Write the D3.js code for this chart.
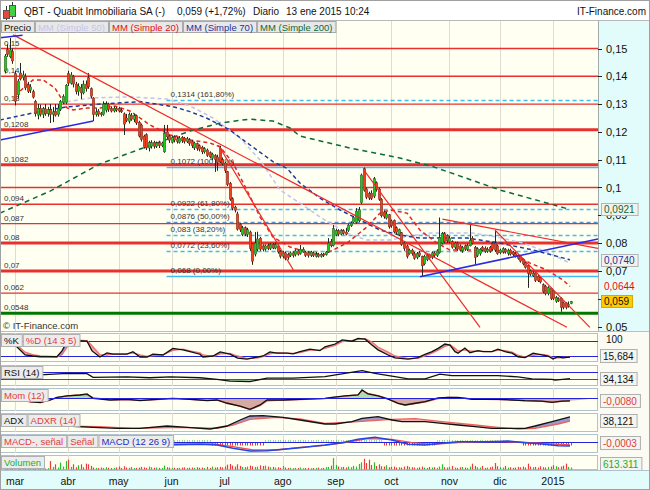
<!DOCTYPE html>
<html><head><meta charset="utf-8">
<script src="https://cdn.jsdelivr.net/npm/d3@7/dist/d3.min.js"></script>
<style>
html,body{margin:0;padding:0;background:#fff;}
svg{display:block;font-family:"Liberation Sans",Arial,Helvetica,sans-serif;}
</style></head><body>
<svg id="chart" width="650" height="490"></svg>
<script>
// ================= DATA =================
const ticker = "QBT - Quabit Inmobiliaria SA (-)";
const lastQuote = "0,059 (+1,72%)";
const period = "Diario";
const stamp = "13 ene 2015 10:24";
const brand = "IT-Finance.com";
const copyright = "\u00a9 IT-Finance.com";

const legendItems = ["Precio","MM (Simple 50)","MM (Simple 20)","MM (Simple 70)","MM (Simple 200)"];

// trading-day index of the first session of each month
const monthLabels = ["mar","abr","may","jun","jul","ago","sep","oct","nov","dic","2015"];
const monthStartIdx = [4,25,45,66,87,110,131,153,176,196,217];

// daily candles [open, high, low, close]  (25 Feb 2014 .. 13 Jan 2015)
const candles = [
[.1419,.1480,.1410,.1473],[.1496,.1515,.1470,.1478],[.1470,.1538,.1465,.1495],[.1490,.1500,.1445,.1455],[.1410,.1420,.1295,.1310],
[.1333,.1390,.1320,.1383],[.1412,.1448,.1385,.1390],[.1395,.1420,.1385,.1405],[.1400,.1410,.1350,.1358],[.1370,.1380,.1340,.1345],
[.1350,.1372,.1340,.1362],[.1345,.1352,.1320,.1325],[.1310,.1315,.1255,.1265],[.1260,.1300,.1245,.1285],[.1285,.1298,.1255,.1262],
[.1262,.1290,.1250,.1285],[.1283,.1300,.1258,.1265],[.1265,.1290,.1255,.1280],[.1280,.1300,.1232,.1262],[.1262,.1290,.1235,.1272],
[.1275,.1300,.1255,.1260],[.1262,.1300,.1255,.1285],[.1280,.1315,.1275,.1310],[.1305,.1335,.1300,.1328],[.1305,.1372,.1300,.1368],
[.1410,.1420,.1365,.1375],[.1375,.1415,.1370,.1405],[.1400,.1405,.1360,.1372],[.1372,.1380,.1335,.1345],[.1345,.1375,.1330,.1365],
[.1360,.1372,.1318,.1340],[.1340,.1385,.1335,.1372],[.1372,.1385,.1345,.1355],[.1395,.1412,.1355,.1362],[.1355,.1360,.1320,.1328],
[.1322,.1325,.1239,.1262],[.1262,.1285,.1255,.1272],[.1275,.1282,.1255,.1262],[.1268,.1272,.1255,.1262],[.1262,.1310,.1258,.1300],
[.1278,.1310,.1270,.1300],[.1300,.1305,.1272,.1280],[.1285,.1292,.1270,.1275],[.1275,.1292,.1270,.1285],[.1285,.1290,.1272,.1278],
[.1285,.1290,.1270,.1275],[.1278,.1285,.1268,.1272],[.1265,.1270,.1189,.1228],[.1250,.1265,.1235,.1240],[.1238,.1270,.1230,.1262],
[.1260,.1268,.1240,.1245],[.1245,.1265,.1235,.1258],[.1258,.1262,.1225,.1232],[.1235,.1240,.1180,.1185],[.1225,.1230,.1165,.1172],
[.1185,.1190,.1140,.1145],[.1190,.1195,.1135,.1142],[.1142,.1168,.1130,.1162],[.1148,.1170,.1140,.1162],[.1162,.1168,.1140,.1148],
[.1148,.1165,.1142,.1160],[.1162,.1168,.1142,.1150],[.1150,.1165,.1145,.1160],[.1128,.1225,.1125,.1195],[.1200,.1225,.1175,.1182],
[.1185,.1190,.1160,.1170],[.1162,.1185,.1158,.1180],[.1182,.1188,.1162,.1170],[.1175,.1182,.1158,.1165],[.1162,.1185,.1158,.1178],
[.1180,.1185,.1160,.1168],[.1178,.1182,.1158,.1165],[.1165,.1182,.1160,.1175],[.1172,.1178,.1150,.1158],[.1165,.1170,.1142,.1150],
[.1142,.1165,.1135,.1160],[.1158,.1162,.1132,.1140],[.1150,.1155,.1130,.1138],[.1145,.1150,.1120,.1128],[.1128,.1145,.1122,.1140],
[.1135,.1140,.1110,.1115],[.1125,.1130,.1105,.1110],[.1105,.1125,.1098,.1120],[.1115,.1120,.1056,.1100],[.1110,.1118,.1060,.1090],
[.1140,.1150,.1088,.1092],[.1100,.1108,.1080,.1085],[.1088,.1092,.1052,.1060],[.1058,.1060,.1005,.1010],[.1015,.1020,.0952,.0958],
[.0960,.0965,.0918,.0925],[.0930,.0935,.0910,.0918],[.0905,.0913,.0845,.0850],[.0868,.0872,.0840,.0848],[.0830,.0862,.0825,.0855],
[.0855,.0860,.0825,.0832],[.0830,.0855,.0822,.0848],[.0840,.0845,.0772,.0780],[.0798,.0800,.0722,.0735],[.0760,.0840,.0752,.0800],
[.0778,.0841,.0770,.0815],[.0818,.0822,.0772,.0778],[.0790,.0795,.0770,.0778],[.0778,.0795,.0772,.0790],[.0792,.0798,.0775,.0780],
[.0780,.0800,.0775,.0795],[.0795,.0800,.0778,.0782],[.0782,.0802,.0778,.0795],[.0790,.0795,.0762,.0768],[.0770,.0775,.0745,.0752],
[.0752,.0772,.0745,.0765],[.0765,.0770,.0738,.0745],[.0760,.0765,.0740,.0748],[.0755,.0770,.0750,.0765],[.0765,.0770,.0748,.0755],
[.0758,.0778,.0752,.0772],[.0772,.0778,.0755,.0760],[.0762,.0793,.0758,.0778],[.0768,.0785,.0765,.0778],[.0768,.0772,.0750,.0755],
[.0765,.0770,.0748,.0755],[.0755,.0772,.0750,.0768],[.0765,.0770,.0750,.0755],[.0752,.0768,.0748,.0760],[.0760,.0765,.0748,.0752],
[.0752,.0765,.0748,.0760],[.0760,.0765,.0750,.0755],[.0758,.0772,.0755,.0768],[.0768,.0818,.0765,.0800],[.0805,.0815,.0785,.0790],
[.0792,.0865,.0788,.0852],[.0830,.0852,.0825,.0845],[.0845,.0850,.0825,.0832],[.0832,.0850,.0828,.0845],[.0845,.0850,.0830,.0835],
[.0840,.0855,.0828,.0832],[.0845,.0870,.0840,.0865],[.0862,.0878,.0858,.0872],[.0875,.0898,.0872,.0893],[.0875,.0926,.0870,.0915],
[.0880,.0930,.0875,.0920],[.0945,.1050,.0940,.1045],[.1068,.1072,.0985,.0990],[.0995,.1000,.0958,.0965],[.0978,.0985,.0955,.0962],
[.0980,.0990,.0955,.0960],[.0968,.1038,.0962,.1032],[.1018,.1022,.0985,.0992],[.0995,.1000,.0952,.0958],[.0958,.0962,.0892,.0898],
[.0912,.0918,.0888,.0895],[.0890,.0912,.0885,.0905],[.0902,.0905,.0852,.0858],[.0880,.0885,.0855,.0862],[.0882,.0885,.0835,.0840],
[.0855,.0860,.0830,.0838],[.0830,.0852,.0825,.0848],[.0838,.0840,.0790,.0795],[.0800,.0805,.0772,.0780],[.0790,.0795,.0745,.0752],
[.0762,.0780,.0758,.0775],[.0775,.0780,.0755,.0762],[.0762,.0768,.0740,.0745],[.0748,.0768,.0742,.0762],[.0765,.0772,.0750,.0755],
[.0752,.0755,.0680,.0718],[.0725,.0758,.0720,.0752],[.0740,.0760,.0735,.0755],[.0758,.0762,.0740,.0745],[.0748,.0770,.0742,.0765],
[.0765,.0770,.0750,.0755],[.0755,.0778,.0750,.0772],[.0765,.0892,.0762,.0820],[.0800,.0840,.0795,.0835],[.0835,.0840,.0800,.0805],
[.0828,.0832,.0800,.0808],[.0805,.0825,.0800,.0818],[.0805,.0810,.0780,.0785],[.0785,.0805,.0778,.0800],[.0800,.0805,.0772,.0778],
[.0790,.0795,.0770,.0775],[.0772,.0790,.0765,.0785],[.0790,.0795,.0772,.0778],[.0778,.0798,.0772,.0792],[.0790,.0865,.0788,.0810],
[.0818,.0825,.0795,.0800],[.0785,.0790,.0722,.0748],[.0755,.0785,.0750,.0780],[.0762,.0782,.0755,.0778],[.0785,.0790,.0770,.0775],
[.0782,.0788,.0765,.0770],[.0770,.0785,.0765,.0778],[.0785,.0790,.0765,.0770],[.0798,.0805,.0772,.0778],[.0800,.0847,.0768,.0775],
[.0790,.0795,.0758,.0762],[.0765,.0780,.0760,.0775],[.0768,.0785,.0762,.0780],[.0778,.0782,.0762,.0768],[.0762,.0780,.0755,.0775],
[.0775,.0780,.0755,.0760],[.0768,.0772,.0752,.0758],[.0762,.0768,.0748,.0752],[.0755,.0760,.0740,.0745],[.0752,.0755,.0730,.0735],
[.0740,.0745,.0720,.0725],[.0730,.0735,.0708,.0712],[.0720,.0722,.0639,.0690],[.0700,.0705,.0682,.0688],[.0682,.0698,.0678,.0692],
[.0692,.0695,.0660,.0665],[.0680,.0685,.0660,.0665],[.0675,.0680,.0655,.0660],[.0650,.0655,.0620,.0625],[.0645,.0650,.0612,.0618],
[.0618,.0645,.0612,.0640],[.0638,.0640,.0595,.0600],[.0628,.0632,.0595,.0600],[.0590,.0610,.0585,.0605],[.0600,.0605,.0588,.0592],
[.0602,.0605,.0553,.0568],[.0585,.0590,.0562,.0568],[.0585,.0588,.0562,.0568],[.0575,.0590,.0568,.0580],[.0582,.0592,.0580,.0590]
];

// daily volume (thousands of shares)
const volume = [
300,250,420,350,300,480,320,260,300,360,280,300,330,300,350,
300,280,420,2600,800,1600,600,2100,900,2600,3000,800,1600,700,1300,
1600,700,1800,1600,1100,600,500,450,600,500,700,550,480,500,650,
900,500,1000,600,550,700,450,500,600,800,650,500,900,700,550,
600,500,450,1200,700,600,500,550,450,500,600,650,500,550,600,
500,700,550,600,450,800,500,900,600,700,800,650,900,1500,1700,
1200,900,1600,1100,800,700,900,1200,1000,800,900,1300,1100,1200,900,
700,800,600,700,500,1100,600,500,550,400,500,450,600,400,450,
500,400,450,500,600,400,500,700,800,1200,3500,1400,900,700,800,
600,900,700,1100,900,1700,2200,3300,2000,3000,1400,2200,1100,1600,1000,
900,1300,700,800,900,600,700,600,900,1100,800,700,600,500,700,
900,600,500,800,600,700,500,900,1600,700,600,800,1100,600,500,
700,800,600,500,900,1800,1100,700,600,1100,500,600,700,900,2000,
1000,700,600,1100,600,700,500,600,800,700,900,600,1800,900,700,
800,600,1000,700,600,800,900,1300,1000,700,900,1200,1800,800,613
];

// moving averages: [day index, price]
const ma20 = [[6,.1347],[11.1,.1387],[15.1,.1387],[19.8,.1358],[23,.1311],[24.6,.1286],[27,.1279],[32.5,.1286],[37.6,.1286],[43.6,.1293],[49.5,.1275],[53.5,.1250],[57.4,.1225],[65.4,.1189],[73.3,.1171],[81.2,.1160],[85.2,.1146],[90.3,.1088],[95.8,.0991],[101,.0894],[106.1,.0822],[112.9,.0786],[116.8,.0775],[125.9,.0757],[135.4,.0800],[143.3,.0858],[148.5,.0908],[152.5,.0919],[159.2,.0908],[164.3,.0847],[171.1,.0800],[176.2,.0775],[185.3,.0775],[193.2,.0775],[201.2,.0764],[207.9,.0728],[214.6,.0703],[221,.0667],[223.7,.0644]];
const ma50 = [[21.8,.1304],[33.7,.1322],[49.5,.1326],[64.2,.1318],[73.3,.1293],[82.4,.1250],[93.1,.1178],[101,.1099],[108.9,.0991],[116.8,.0944],[124.7,.0894],[135.4,.0836],[143.3,.0811],[152.5,.0811],[160.4,.0826],[168.3,.0836],[185.3,.0836],[194.8,.0822],[205.1,.0800],[214.6,.0768],[223.7,.0728]];
const ma70 = [[-1.94,.1243],[11.1,.1268],[24.6,.1290],[37.6,.1300],[53.5,.1309],[66.5,.1291],[73.3,.1273],[80,.1249],[89.1,.1207],[94.3,.1171],[99.8,.1135],[106.1,.1093],[111.7,.1069],[116.8,.1016],[124.7,.0962],[132.7,.0919],[140.6,.0883],[148.5,.0847],[156.4,.0829],[164.3,.0818],[171.1,.0818],[183,.0818],[196,.0800],[209.1,.0775],[223.7,.0740]];
const ma200 = [[-1.94,.0908],[17.9,.0987],[37.6,.1085],[54.7,.1142],[73.3,.1203],[85.2,.1232],[97,.1246],[106.1,.1239],[112.9,.1214],[116.8,.1185],[136.6,.1142],[156.4,.1106],[169.5,.1075],[196,.0991],[223.7,.0921]];

// horizontal support / resistance lines
const srLevels = [.15,.14,.13,.1208,.1082,.1,.094,.087,.08,.07,.062];
const srLabels = ["0,15","0,14","0,13","0,1208","0,1082","","0,094","0,087","0,08","0,07","0,062"];
const supportLevel = .0548;
const supportLabel = "0,0548";

// Fibonacci retracement
const fibLevels = [.1314,.1072,.0922,.0876,.083,.0772,.068];
const fibLabels = ["0,1314 (161,80%)","0,1072 (100,00%)","0,0922 (61,80%)","0,0876 (50,00%)","0,083 (38,20%)","0,0772 (23,60%)","0,068 (0,00%)"];
const fibStartIdx = 64;

// trend lines [idx1, price1, idx2, price2]
const redTrendLines = [[3.3,.1549,222.5,.0497],[84.5,.1153,114.2,.0703],[141.9,.1065,188.1,.0497],[194,.0847,231.6,.0497],[173.2,.0886,234.8,.0781]];
const blueTrendLines = [[164.3,.0679,234.8,.0815],[-1.94,.1171,35,.1239],[-1.94,.1539,7,.1548]];

// right axis ticks (0,06 is hidden behind the value boxes in the original)
const priceTicks = [.05,.06,.07,.08,.09,.1,.11,.12,.13,.14,.15];
const hiddenTickLabels = [.06];
const maEndLabels = ["0,0921","0,0740","0,0644"];   // MM200, MM70, MM20
const lastPriceLabel = "0,059";

// indicators [day index, value]
const stochK = [[4,63],[8,24],[11,20],[14,17],[20.6,17],[22.6,40],[24.6,76],[28.5,80],[32.5,78],[34.5,40],[37.6,16],[40.4,32],[42.8,27],[48.3,27],[50.7,37],[53.5,16],[56.3,16],[58.6,27],[62.6,24],[66.5,50],[70.5,44],[73.3,37],[77.2,27],[78.4,16],[82.4,20],[85.2,36],[89.1,27],[92.1,12],[95.8,8],[99.8,16],[102.2,20],[104.9,36],[107.7,31],[111.7,31],[114.1,28],[116.8,37],[120.8,47],[124.7,41],[126.7,56],[130.7,67],[133.5,83],[137.4,78],[139.8,89],[142.6,86],[145.3,63],[147.7,44],[151.7,24],[154.4,13],[159.6,8],[163.5,14],[166.3,26],[169.1,37],[171.5,50],[174.2,67],[176.2,63],[178.2,37],[179.4,31],[182.1,51],[184.1,33],[187.3,41],[189.3,37],[192.8,37],[195.2,47],[198,37],[200.8,31],[203.1,17],[205.9,14],[209.1,31],[212.6,24],[215,20],[217,8],[219,17],[220.9,13],[223.7,16]];
const stochD = [[4,70],[8,35],[11,25],[14,20],[20.6,17],[22.6,25],[24.6,55],[28.5,82],[32.5,80],[34.5,60],[37.6,25],[40.4,24],[42.8,28],[48.3,28],[50.7,32],[53.5,24],[56.3,18],[58.6,22],[62.6,25],[66.5,42],[70.5,47],[73.3,40],[77.2,32],[78.4,24],[82.4,18],[85.2,28],[89.1,30],[92.1,20],[95.8,10],[99.8,12],[102.2,18],[104.9,28],[107.7,33],[111.7,31],[114.1,30],[116.8,33],[120.8,43],[124.7,44],[126.7,50],[130.7,62],[133.5,76],[137.4,80],[139.8,85],[142.6,88],[145.3,75],[147.7,55],[151.7,35],[154.4,20],[159.6,10],[163.5,11],[166.3,20],[169.1,31],[171.5,43],[174.2,58],[176.2,64],[178.2,50],[179.4,40],[182.1,44],[184.1,40],[187.3,38],[189.3,38],[192.8,37],[195.2,43],[198,41],[200.8,35],[203.1,23],[205.9,16],[209.1,23],[212.6,26],[215,22],[217,13],[219,13],[220.9,14],[223.7,16]];
const rsi = [[14,55],[24.6,64],[32.5,62],[34.9,41],[48.3,44],[57.4,39],[65.4,44],[77.2,39],[84,30],[89.1,20],[97,17],[103.8,37],[114.1,37],[126.7,45],[134.6,64],[141.4,79],[146.5,64],[154.4,45],[159.6,32],[166.3,32],[172.2,59],[177,51],[186.1,51],[195.2,51],[203.1,44],[208.7,32],[216.6,30],[217.8,25],[223.7,34]];
const mom = [[6,0],[10,-.011],[14,-.014],[17.9,-.0055],[20.6,.003],[24.6,.0075],[29.7,.0107],[32.5,.014],[34.9,0],[41.6,-.0055],[48.3,-.003],[53.5,-.0077],[60.2,-.003],[66.5,0],[73.3,-.003],[80,-.0077],[84,-.0055],[87.9,-.016],[93.1,-.025],[97,-.0355],[101,-.0215],[103.8,-.0055],[110.1,-.0055],[116.8,-.003],[126.7,0],[129.5,.003],[134.6,.0075],[139.8,.0107],[141.4,.0268],[143.7,.014],[147.7,.0075],[151.7,-.003],[155.6,-.016],[158.4,-.0215],[162.4,-.016],[166.3,-.011],[171.5,.001],[175.4,.003],[179.4,.003],[184.9,-.003],[190.1,-.003],[195.2,-.003],[200.8,-.0055],[205.9,-.0077],[212.6,-.009],[216.6,-.0131],[220.5,-.009],[223.7,-.008]];
const momRed = [[6,-.002],[10,-.012],[14,-.013],[17.9,-.006],[20.6,.002],[24.6,.008],[29.7,.011],[32.5,.012],[34.9,.002],[41.6,-.005],[48.3,-.004],[53.5,-.007],[60.2,-.004],[66.5,-.001],[73.3,-.003],[80,-.007],[84,-.006],[87.9,-.014],[93.1,-.026],[97,-.036],[101,-.024],[103.8,-.008],[110.1,-.006],[116.8,-.004],[126.7,-.001],[129.5,.002],[134.6,.007],[139.8,.011],[141.4,.025],[143.7,.016],[147.7,.009],[151.7,-.001],[155.6,-.015],[158.4,-.022],[162.4,-.017],[166.3,-.012],[171.5,-.001],[175.4,.003],[179.4,.002],[184.9,-.002],[190.1,-.003],[195.2,-.004],[200.8,-.005],[205.9,-.008],[212.6,-.010],[216.6,-.012],[220.5,-.010],[223.7,-.008]];
const adx = [[17.9,17.5],[24.6,15],[34.9,11.8],[44.4,9.3],[53.5,9.3],[64.2,15],[72.1,11.8],[81.2,7.5],[87.9,15],[93.1,30],[97,40],[102.2,40.8],[110.1,36.8],[116.8,30],[126.7,20],[130.7,20],[137.4,25.8],[141.4,34.3],[147.7,38.3],[153.2,30],[157.2,25.8],[166.3,25.8],[173,21.8],[179.4,17.5],[186.1,13.3],[192.8,9.3],[199.2,9.3],[205.9,9.3],[209.9,15],[216.6,25.8],[223.7,38.1]];
const adxr = [[17.9,15],[37.6,13.3],[50.7,9.3],[70.5,11.8],[84,9.3],[90.3,17.5],[97,31.7],[107.7,36.8],[116.8,32.5],[126.7,21.7],[139.8,25.8],[153.2,31.7],[162.4,33.3],[173,25.8],[186.1,17.5],[195.2,11.8],[203.1,7.5],[209.9,9.3],[219,20],[223.7,27.5]];
const macd = [[64.2,-.0033],[77.2,-.0026],[84,-.0033],[90.3,-.0066],[97,-.0093],[103.8,-.009],[110.1,-.0076],[116.8,-.006],[126.7,-.0033],[133.5,-.001],[139.8,.0024],[146.5,.0044],[153.2,.0017],[159.6,-.0026],[166.3,-.0033],[173,-.0016],[179.4,0],[186.1,0],[192.8,0],[199.2,.0007],[205.9,-.001],[212.6,-.0023],[219,-.004],[223.7,-.0043]];
const macdSignal = [[64.2,-.0023],[82.4,-.0023],[90.3,-.005],[98.2,-.0083],[107.7,-.0083],[116.8,-.0056],[126.7,-.0036],[134.6,-.001],[143.7,.003],[153.2,.0024],[161.2,-.001],[169.1,-.0026],[179.4,-.001],[192.8,.0004],[203.1,-.0003],[212.6,-.0016],[223.7,-.0033]];
// sign of MACD histogram by ranges of days [from, to, sign]
const macdHistSegs = [[64,81,1],[82,102,-1],[103,149,1],[150,170,-1],[171,199,1],[205,224,-1]];
const panelLastValues = ["15,684","34,134","-0,0080","38,121","-0,0003","613.311"];

// ================= DRAWING =================
const svg = d3.select("#chart");
const defs = svg.append("defs");
const PR = 598, MT = 21, MB = 331;
const x = d3.scaleLinear().domain([-1.94, 234.8]).range([0, PR]);
const y = d3.scaleLinear().domain([.05, .15]).range([326.5, 48.5]);
const line = d3.line();
const px = v => Math.round(v) + 0.5;

svg.append("rect").attr("width",650).attr("height",490).attr("fill","#ffffff");

// ---- title bar ----
const icon = svg.append("g");
icon.append("line").attr("x1",6.5).attr("x2",6.5).attr("y1",6).attr("y2",21).attr("stroke","#333");
icon.append("rect").attr("x",3.5).attr("y",10.5).attr("width",6).attr("height",8).attr("fill","#e8483c").attr("stroke","#555");
icon.append("line").attr("x1",12.5).attr("x2",12.5).attr("y1",2).attr("y2",19).attr("stroke","#333");
icon.append("rect").attr("x",9.5).attr("y",5.5).attr("width",6).attr("height",11).attr("fill","#40d040").attr("stroke","#555");
const tt = [[ticker,24],[lastQuote,177],[period,253],[stamp,286]];
tt.forEach(t => svg.append("text").attr("x",t[1]).attr("y",14.5).attr("font-size",10).attr("fill","#111").text(t[0]));
svg.append("text").attr("x",646).attr("y",14.5).attr("text-anchor","end").attr("font-size",10).attr("fill","#111").text(brand);

// ---- main plot background ----
svg.append("rect").attr("x",0).attr("y",MT).attr("width",PR).attr("height",MB-MT).attr("fill","#fffff2");
svg.append("rect").attr("x",PR).attr("y",MT).attr("width",650-PR).attr("height",MB-MT).attr("fill","#e2fbfb");
svg.append("line").attr("x1",0).attr("x2",650).attr("y1",MT-0.5).attr("y2",MT-0.5).attr("stroke","#b8b8b8");

defs.append("clipPath").attr("id","mainClip").append("rect").attr("x",0).attr("y",MT).attr("width",PR).attr("height",MB-MT);
const main = svg.append("g").attr("clip-path","url(#mainClip)");

// month grid
monthStartIdx.forEach(i => main.append("line").attr("x1",px(x(i))).attr("x2",px(x(i))).attr("y1",MT).attr("y2",MB).attr("stroke","#dedcd0"));

// fibonacci lines
fibLevels.forEach((v,k) => {
  const solid = (k===1 || k===fibLevels.length-1);
  main.append("line").attr("x1",x(fibStartIdx)).attr("x2",PR).attr("y1",px(y(v))).attr("y2",px(y(v)))
    .attr("stroke", k===3 ? "#5a8ed0" : "#40bcf0").attr("stroke-width",1.4)
    .attr("stroke-dasharray", solid ? null : "4,3");
});

// support / resistance lines
const thick = new Set([.1208,.1082,.08,.07]);
srLevels.forEach(v => main.append("line").attr("x1",0).attr("x2",PR).attr("y1",y(v)).attr("y2",y(v))
  .attr("stroke","#e8302e").attr("stroke-width", thick.has(v) ? 3 : 1.4));
main.append("line").attr("x1",0).attr("x2",PR).attr("y1",y(supportLevel)).attr("y2",y(supportLevel))
  .attr("stroke","#007800").attr("stroke-width",3);

// moving averages
const maDefs = [[ma200,"#0b6b3a","5,4"],[ma50,"#c2c2ee","4,3"],[ma70,"#1d3a9c","4,3"],[ma20,"#e02626","4,3"]];
maDefs.forEach(m => main.append("path").attr("d", line(m[0].map(d=>[x(d[0]),y(d[1])])))
  .attr("fill","none").attr("stroke",m[1]).attr("stroke-width",1.5).attr("stroke-dasharray",m[2]));

// labels of lines
srLevels.forEach((v,k) => { if (srLabels[k]) main.append("text").attr("x",4).attr("y",y(v)-3).attr("font-size",8).attr("fill","#333").text(srLabels[k]); });
main.append("text").attr("x",4).attr("y",y(supportLevel)-3).attr("font-size",8).attr("fill","#333").text(supportLabel);
fibLevels.forEach((v,k) => main.append("text").attr("x",x(fibStartIdx)+4).attr("y",y(v)-3).attr("font-size",8).attr("fill","#333").text(fibLabels[k]));

// candles
const cg = main.append("g");
candles.forEach((c,i) => {
  const cx = px(x(i));
  const up = c[3] >= c[0];
  cg.append("line").attr("x1",cx).attr("x2",cx).attr("y1",y(c[1])).attr("y2",y(c[2])).attr("stroke","#262626").attr("stroke-width",1);
  const top = y(Math.max(c[0],c[3])), bot = y(Math.min(c[0],c[3]));
  cg.append("rect").attr("x",cx-1.3).attr("y",top).attr("width",2.6).attr("height",Math.max(1,bot-top))
    .attr("fill", up ? "#1ec81e" : "#f0401e").attr("stroke","#3a2a2a").attr("stroke-width",0.35);
});

// trend lines
redTrendLines.forEach(t => main.append("line").attr("x1",x(t[0])).attr("y1",y(t[1])).attr("x2",x(t[2])).attr("y2",y(t[3]))
  .attr("stroke","#ee2a2a").attr("stroke-width",1.2));
blueTrendLines.forEach(t => main.append("line").attr("x1",x(t[0])).attr("y1",y(t[1])).attr("x2",x(t[2])).attr("y2",y(t[3]))
  .attr("stroke","#2a2ae6").attr("stroke-width",1.5));

main.append("text").attr("x",3).attr("y",MB-2).attr("font-size",9.5).attr("fill","#333").text(copyright);

// legend
const legColors = ["#111","#c4c4ec","#e01010","#1a34a0","#0a6a3a"];
let lx = 1;
legendItems.forEach((s,k) => {
  const g = svg.append("g");
  const r = g.append("rect").attr("x",lx+0.5).attr("y",MT+0.5).attr("height",11).attr("fill","#e8e8e8").attr("stroke","#a8a8a8");
  const t = g.append("text").attr("x",lx+3).attr("y",MT+9.5).attr("font-size",9.5).attr("fill",legColors[k]).text(s);
  const w = t.node().getComputedTextLength() + 6;
  r.attr("width",w);
  lx += w + 1;
});

// right axis
svg.append("line").attr("x1",PR+0.5).attr("x2",PR+0.5).attr("y1",MT).attr("y2",MB).attr("stroke","#a0a8a8");
priceTicks.forEach(v => {
  svg.append("line").attr("x1",PR).attr("x2",PR+4).attr("y1",px(y(v))).attr("y2",px(y(v))).attr("stroke","#222");
  if (!hiddenTickLabels.includes(v))
    svg.append("text").attr("x",PR+8).attr("y",y(v)+4).attr("font-size",11).attr("fill","#111")
      .text((+v.toFixed(2)).toString().replace(".",","));
});
function valueBox(txt, yc, color, fill, stroke) {
  const g = svg.append("g");
  const r = g.append("rect").attr("x",PR+3.5).attr("y",Math.round(yc-6)+0.5).attr("height",12).attr("fill",fill).attr("stroke",stroke);
  const t = g.append("text").attr("x",PR+6).attr("y",Math.round(yc-6)+10).attr("font-size",10).attr("fill",color).text(txt);
  r.attr("width", t.node().getComputedTextLength()+6);
}
valueBox(maEndLabels[0], y(ma200[ma200.length-1][1]), "#0a6a3a", "#f2f2ea", "#b4b4b4");
valueBox(maEndLabels[1], y(ma70[ma70.length-1][1]), "#1a34a0", "#f2f2ea", "#b4b4b4");
valueBox(maEndLabels[2], y(ma20[ma20.length-1][1]), "#e01010", "#eef8f8", "#e2fbfb");
valueBox(lastPriceLabel, y(candles[candles.length-1][3]), "#111", "#ffcc00", "#d8a800");

// ---------- lower panels ----------
let clipN = 0;
function makePanel(y0, y1) {
  const id = "pc" + (clipN++);
  defs.append("clipPath").attr("id",id).append("rect").attr("x",0).attr("y",y0).attr("width",PR).attr("height",y1-y0);
  svg.append("rect").attr("x",0.5).attr("y",y0+0.5).attr("width",PR-1).attr("height",y1-y0-1).attr("fill","#fffff2").attr("stroke","#b0c2cc");
  const g = svg.append("g").attr("clip-path",`url(#${id})`);
  monthStartIdx.forEach(i => g.append("line").attr("x1",px(x(i))).attr("x2",px(x(i))).attr("y1",y0).attr("y2",y1).attr("stroke","#dedcd0"));
  return g;
}
function fillBetween(g, A, B, ys, colPos, colNeg, y0, y1) {
  const pa = A.map(d=>[x(d[0]),ys(d[1])]);
  const pb = B.map(d=>[x(d[0]),ys(d[1])]);
  const poly = "M" + pa.concat(pb.slice().reverse()).join("L") + "Z";
  const ext = [[-10,pb[0][1]]].concat(pb).concat([[660,pb[pb.length-1][1]]]);
  [[y0-50,colPos],[y1+50,colNeg]].forEach(s => {
    const id = "fb" + (clipN++);
    const cp = [[-10,s[0]]].concat(ext).concat([[660,s[0]]]);
    defs.append("clipPath").attr("id",id).append("path").attr("d","M"+cp.join("L")+"Z");
    g.append("path").attr("d",poly).attr("fill",s[1]).attr("clip-path",`url(#${id})`);
  });
}
function hline(g, yv, color, i0) {
  g.append("line").attr("x1",x(i0)).attr("x2",PR).attr("y1",px(yv)).attr("y2",px(yv)).attr("stroke",color).attr("stroke-width",1.2);
}
function drawLine(g, data, ys, color, w) {
  g.append("path").attr("d", line(data.map(d=>[x(d[0]),ys(d[1])]))).attr("fill","none").attr("stroke",color).attr("stroke-width",w||1.3);
}
function panelLabels(y0, items) {
  let lx = 1;
  items.forEach(it => {
    const r = svg.append("rect").attr("x",lx+0.5).attr("y",y0+1.5).attr("height",12).attr("fill","#ececec").attr("stroke","#b0b0b0");
    const t = svg.append("text").attr("x",lx+3).attr("y",y0+11).attr("font-size",9.5).attr("fill",it[1]).text(it[0]);
    const w = t.node().getComputedTextLength()+6;
    r.attr("width",w); lx += w + 1;
  });
}
function rightBox(txt, yc, color, y0, y1) {
  const c = Math.max(y0+7, Math.min(y1-7, yc));
  const r = svg.append("rect").attr("x",PR+2.5).attr("y",Math.round(c-6.5)+0.5).attr("height",13).attr("fill","#f4f4f0").attr("stroke","#b0b0b0");
  const t = svg.append("text").attr("x",PR+5).attr("y",Math.round(c-6.5)+10.5).attr("font-size",10).attr("fill",color).text(txt);
  r.attr("width", t.node().getComputedTextLength()+6);
}
svg.append("rect").attr("x",PR).attr("y",MB).attr("width",650-PR).attr("height",471-MB).attr("fill","#fbfbf3");
svg.append("line").attr("x1",0).attr("x2",650).attr("y1",MB+0.5).attr("y2",MB+0.5).attr("stroke","#b0c2cc");

// stochastic
{
  const y0=333, y1=362, ys=d3.scaleLinear().domain([0,100]).range([361.1,335.6]);
  const g = makePanel(y0,y1);
  fillBetween(g, stochK, stochD, ys, "#9a9ad4", "#f2a8a8", y0, y1);
  hline(g, ys(80), "#2424e0", -2); hline(g, ys(20), "#2424e0", -2);
  drawLine(g, stochD, ys, "#ee7070", 1.3);
  drawLine(g, stochK, ys, "#111", 1.3);
  panelLabels(y0, [["%K","#111"],["%D (14 3 5)","#e03c3c"]]);
  svg.append("text").attr("x",PR+8).attr("y",ys(100)+7.5).attr("font-size",10).attr("fill","#111").text("100");
  rightBox(panelLastValues[0], ys(stochK[stochK.length-1][1]), "#111", y0, y1);
}
// RSI
{
  const y0=365, y1=386, ys=d3.scaleLinear().domain([0,100]).range([384.6,367]);
  const g = makePanel(y0,y1);
  fillBetween(g, rsi, [[-2,30],[235,30]], ys, "rgba(0,0,0,0)", "#a8d0a0", y0, y1);
  hline(g, ys(70), "#2424e0", 14); hline(g, ys(30), "#e01818", -2);
  drawLine(g, rsi, ys, "#111", 1.3);
  panelLabels(y0, [["RSI (14)","#111"]]);
  rightBox(panelLastValues[1], ys(rsi[rsi.length-1][1]), "#111", y0, y1);
}
// Momentum
{
  const y0=388, y1=411, ys=d3.scaleLinear().domain([-.04,.04]).range([410.7,385.9]);
  const g = makePanel(y0,y1);
  fillBetween(g, momRed, [[-2,0],[235,0]], ys, "#b4dab0", "#d4aaa2", y0, y1);
  drawLine(g, momRed, ys, "#ee6060", 1.3);
  drawLine(g, mom, ys, "#111", 1.3);
  hline(g, ys(0), "#2424e0", 14);
  panelLabels(y0, [["Mom (12)","#e03c3c"]]);
  rightBox(panelLastValues[2], ys(mom[mom.length-1][1]), "#e03c3c", y0, y1);
}
// ADX
{
  const y0=413, y1=432, ys=d3.scaleLinear().domain([0,50]).range([432,412]);
  const g = makePanel(y0,y1);
  fillBetween(g, adx, adxr, ys, "#9a9ad0", "#f0b0b0", y0, y1);
  drawLine(g, adxr, ys, "#ee6060", 1.3);
  drawLine(g, adx, ys, "#111", 1.3);
  panelLabels(y0, [["ADX","#111"],["ADXR (14)","#e03c3c"]]);
  rightBox(panelLastValues[3], ys(adx[adx.length-1][1])+4, "#111", y0, y1);
}
// MACD
{
  const y0=434, y1=453, ys=d3.scaleLinear().domain([-.01,.01]).range([451.7,431.7]);
  const g = makePanel(y0,y1);
  const z = px(ys(0));
  macdHistSegs.forEach(s => {
    for (let i=s[0]; i<=s[1]; i++) {
      g.append("line").attr("x1",px(x(i))).attr("x2",px(x(i)))
        .attr("y1", s[2]>0 ? z-2 : z).attr("y2", s[2]>0 ? z-1 : z+3)
        .attr("stroke", s[2]>0 ? "#22c022" : "#e83030").attr("stroke-width",1);
    }
  });
  hline(g, ys(0), "#2424e0", 64);
  drawLine(g, macdSignal, ys, "#ee5050", 1.3);
  drawLine(g, macd, ys, "#2244e8", 1.5);
  panelLabels(y0, [["MACD-, se\u00f1al","#e03c3c"],["Se\u00f1al","#e03c3c"],["MACD (12 26 9)","#2030c0"]]);
  rightBox(panelLastValues[4], z, "#e03c3c", y0, y1);
}
// Volume
{
  const y0=455, y1=470, ys=d3.scaleLinear().domain([0,4000]).range([469.5,456.5]);
  const g = makePanel(y0,y1);
  volume.forEach((v,i) => {
    const c = candles[i];
    g.append("line").attr("x1",px(x(i))).attr("x2",px(x(i))).attr("y1",ys(0)).attr("y2",ys(v))
      .attr("stroke", c[3] >= c[0] ? "#22c022" : "#ee3a3a").attr("stroke-width",1.2);
  });
  panelLabels(y0, [["Volumen","#20b020"]]);
  rightBox(panelLastValues[5], ys(volume[volume.length-1]), "#20b020", y0, y1);
}

// x axis
svg.append("rect").attr("x",0).attr("y",471).attr("width",650).attr("height",19).attr("fill","#e2fbfb");
svg.append("line").attr("x1",0).attr("x2",650).attr("y1",470.5).attr("y2",470.5).attr("stroke","#b0c2cc");
monthLabels.forEach((m,k) => svg.append("text").attr("x",x(monthStartIdx[k])).attr("y",485).attr("text-anchor","middle")
  .attr("font-size",10.5).attr("fill","#111").text(m));

// outer border
svg.append("rect").attr("x",0.5).attr("y",0.5).attr("width",649).attr("height",489).attr("fill","none").attr("stroke","#a0a0a0");
</script>
</body></html>
